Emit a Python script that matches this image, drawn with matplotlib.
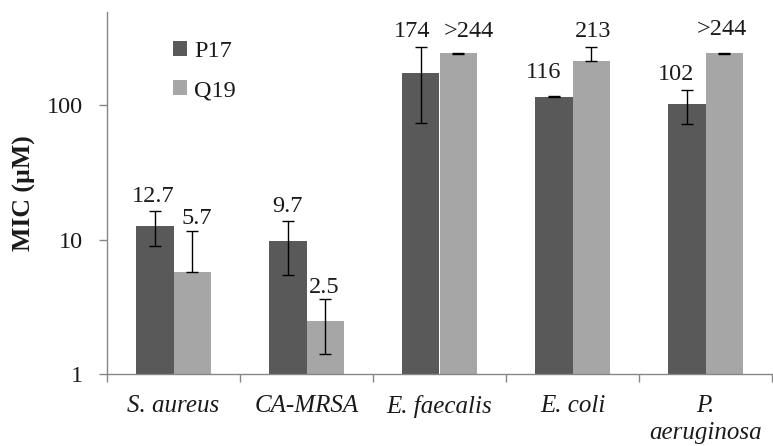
import numpy as np
import matplotlib
matplotlib.use("Agg")
import matplotlib.pyplot as plt

# MIC values (µM) for the two peptides against each strain
strains = ["S. aureus", "CA-MRSA", "E. faecalis", "E. coli", "P.\naeruginosa"]
p17_mic = [12.7, 9.7, 174, 116, 102]
q19_mic = [5.7, 2.5, 244, 213, 244]
p17_err_low = [3.7, 4.2, 100, 0.5, 29]
p17_err_high = [3.7, 4.1, 100, 0.5, 29]
q19_err_low = [0.0, 1.1, 2, 0, 2]
q19_err_high = [5.9, 1.1, 2, 57, 2]
p17_labels = ["12.7", "9.7", "174", "116", "102"]
q19_labels = ["5.7", "2.5", ">244", "213", ">244"]
y_ticks = [1, 10, 100]

# label nudges in pixels (dx, dy above the top of the error bar)
p17_nudge = [(-1.5, 14), (0, 14), (-8, 15), (-10, 24), (-11, 15)]
q19_nudge = [(4.5, 13), (-1, 12), (10.5, 21), (2, 16), (-2.5, 23)]

plt.rcParams["font.family"] = ["Liberation Serif", "DejaVu Serif"]
fs = 17.5

dark = "#595959"
light = "#a6a6a6"
axis_grey = "#868686"
text_col = "#1a1a1a"

fig = plt.figure(figsize=(7.73, 4.46), dpi=100)
ax = fig.add_axes([107 / 773, 1 - 374 / 446, 665 / 773, (374 - 11.5) / 446])

x = np.arange(len(strains))
w = 0.285
ekw = dict(ecolor="black", elinewidth=1.0, capsize=4.5, capthick=1.0)

ax.bar(x - w / 2, p17_mic, w, color=dark, label="P17", zorder=2,
       yerr=[p17_err_low, p17_err_high], error_kw=ekw)
ax.bar(x + w / 2, q19_mic, w, color=light, label="Q19", zorder=2,
       yerr=[q19_err_low, q19_err_high], error_kw=ekw)

ax.set_yscale("log")
ax.set_ylim(1, 500)
ax.set_xlim(-0.5, len(strains) - 0.5)

for xs, vals, hi, labs, nud in [
    (x - w / 2, p17_mic, p17_err_high, p17_labels, p17_nudge),
    (x + w / 2, q19_mic, q19_err_high, q19_labels, q19_nudge),
]:
    for xi, v, e, t, (dx, dy) in zip(xs, vals, hi, labs, nud):
        ax.annotate(t, (xi, v + e), xytext=(dx, dy), textcoords="offset pixels",
                    ha="center", va="center", fontsize=fs, color=text_col)

# y axis
ax.set_yticks(y_ticks)
ax.set_yticklabels([str(t) for t in y_ticks])
ax.yaxis.set_minor_locator(matplotlib.ticker.NullLocator())
ax.tick_params(axis="y", which="major", length=6, width=1, color=axis_grey,
               pad=11, labelsize=fs, labelcolor=text_col)
ax.set_ylabel("MIC (µM)", fontsize=18.5, fontweight="bold", labelpad=8,
              color=text_col)

# x axis: ticks at category boundaries, labels at centres
ax.set_xticks(np.arange(len(strains) + 1) - 0.5)
ax.set_xticklabels([""] * (len(strains) + 1))
ax.set_xticks(x, minor=True)
ax.set_xticklabels(strains, minor=True, fontstyle="italic", fontsize=18,
                   linespacing=1.3, color=text_col)
ax.tick_params(axis="x", which="major", length=6, width=1, color=axis_grey)
ax.tick_params(axis="x", which="minor", length=0, pad=15)

for side in ["top", "right"]:
    ax.spines[side].set_visible(False)
for side in ["left", "bottom"]:
    ax.spines[side].set_color(axis_grey)
    ax.spines[side].set_linewidth(1)

leg = ax.legend(loc="upper left", bbox_to_anchor=(0.085, 0.945), frameon=False,
                fontsize=fs, handlelength=0.55, handleheight=0.55,
                handletextpad=0.3, labelspacing=0.75, borderaxespad=0)
for t in leg.get_texts():
    t.set_color(text_col)

fig.savefig("out.png", dpi=100)
